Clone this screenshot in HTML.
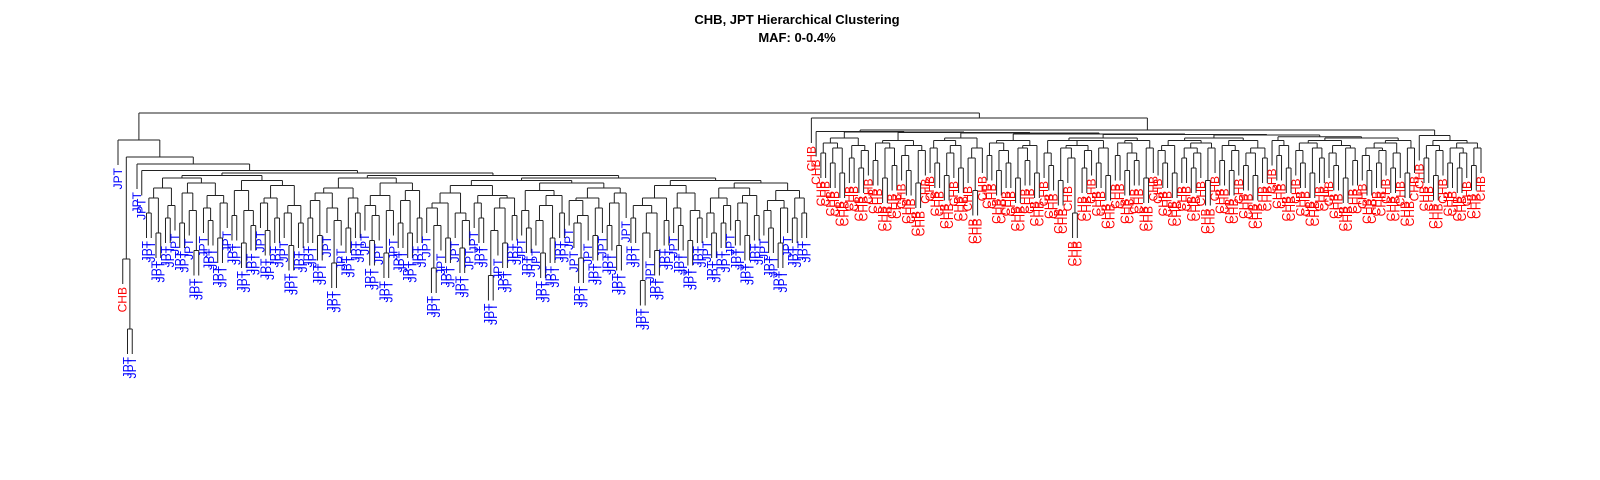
<!DOCTYPE html>
<html><head><meta charset="utf-8"><style>
html,body{margin:0;padding:0;background:#fff;}
svg{display:block;}
text{font-family:"Liberation Sans",sans-serif;}
</style></head><body>
<svg id="chart" width="1600" height="480" viewBox="0 0 1600 480" xmlns="http://www.w3.org/2000/svg">
<text x="797" y="24" text-anchor="middle" font-size="13" font-weight="bold">CHB, JPT Hierarchical Clustering</text>
<text x="797" y="42" text-anchor="middle" font-size="13" font-weight="bold">MAF: 0-0.4%</text>
<g id="tree"></g>
<g id="labels"></g>
</svg>
<script>
// ---- data ----
const jptCount = 146;   // leaves 0..145 are JPT except leaf 1
const chbCount = 142;   // leaves 146..287 are CHB
const chbExtraIndex = [1];
// merge heights between adjacent leaves (ultrametric)
const topGaps = [89.2, 41.6, 13.6, 82.4];
const jptGaps = [79.6,
77,60,66,52,70,58,63,74,56,68,61,45,72,
62,57,67,50,64,75,59,69,48,61,55,73,
64,53,66,58,71,60,47,63,56,76,
58,65,51,68,62,40,57,70,54,66,60,74,
63,49,59,67,44,61,72,56,65,52,69,58,
75,62,38,55,64,50,68,60,46,57,71,
64,58,67,35,53,62,48,66,59,73,
61,54,69,57,44,63,50,67,60,72,
65,56,42,59,66,51,62,70,55,64,47,68,
74,58,63,33,52,60,45,66,57,71,
62,55,68,49,61,58,73,60,52,66,56,63,
70,57,64,51,67,59,72,61,54,65,48,62,69,58,66,60];
const rootGap = [100];
const chbGaps = [98,
92.6,84,88,80,86,76,90,82,87,78,85,92.4,
81,88,74,86,79,89,83,77,87,72,85,92.2,
86,80,89,75,84,87,78,90,82,69,86,92.0,
83,88,77,85,80,89,74,86,81,87,76,91.6,
84,79,89,73,86,82,60,87,78,85,89,80,
86,75,90,83,88,77,84,81,89,74,86,91.4,
85,80,87,76,89,82,86,78,84,88,73,86,
90,81,87,77,85,89,79,84,75,86,82,91.2,
89,83,87,78,90.5,85,80,88,76,86,82,89,
84,79,87,74,86,81,90,83,77,86,80,85,
88,78,84,89,76,86,93.2,
91,82,87,75,85,89,80,86,78,84,88,79,86];
const hang = 10;

// ---- build ----
const gaps = topGaps.concat(jptGaps, rootGap, chbGaps);
const n = gaps.length + 1;
const labels = [];
for (let i = 0; i < n; i++) labels.push(i < jptCount && chbExtraIndex.indexOf(i) < 0 ? 'JPT' : 'CHB');

const xScale = i => 118 + i * (1481 - 118) / (n - 1);
const yScale = h => 113 + (100 - h) * 2.5;

const NS = 'http://www.w3.org/2000/svg';
const tree = document.getElementById('tree');
const labG = document.getElementById('labels');
let d = '';
function build(lo, hi) {
  if (lo === hi) return {leaf: true, i: lo, x: xScale(lo)};
  let k = lo;
  for (let j = lo; j < hi; j++) if (gaps[j] > gaps[k]) k = j;
  const h = gaps[k];
  const L = build(lo, k), R = build(k + 1, hi);
  const y = yScale(h);
  [L, R].forEach(c => {
    const ch = c.leaf ? h - hang : c.h;
    d += 'M' + c.x + ' ' + y + 'V' + yScale(ch);
    if (c.leaf) {
      const t = document.createElementNS(NS, 'text');
      const ty = yScale(ch) + 3;
      t.setAttribute('x', c.x + 4);
      t.setAttribute('y', ty);
      t.setAttribute('transform', 'rotate(-90 ' + (c.x + 4) + ' ' + ty + ')');
      t.setAttribute('text-anchor', 'end');
      t.setAttribute('font-size', '12');
      t.setAttribute('fill', labels[c.i] === 'JPT' ? '#0000ff' : '#ff0000');
      t.textContent = labels[c.i];
      
      
      labG.appendChild(t);
    }
  });
  d += 'M' + L.x + ' ' + y + 'H' + R.x;
  return {leaf: false, x: (L.x + R.x) / 2, h: h};
}
build(0, n - 1);
const p = document.createElementNS(NS, 'path');
p.setAttribute('d', d);
p.setAttribute('stroke', '#222');
p.setAttribute('stroke-width', '1');
p.setAttribute('fill', 'none');


tree.appendChild(p);
</script>
</body></html>
